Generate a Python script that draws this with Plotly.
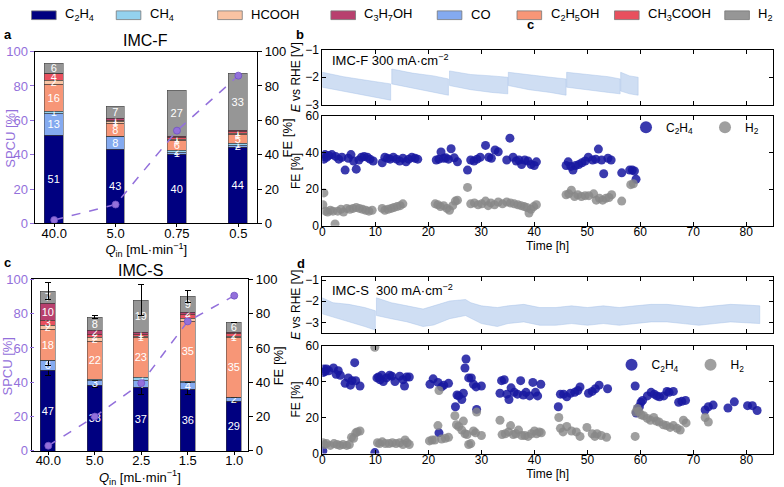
import plotly.graph_objects as go

W, H = 784, 487
def px(x): return x / W
def py(y): return 1 - y / H

FONT = "Liberation Sans, Arial, sans-serif"
PURPLE = "#9370DB"

# ---------------- data ----------------
products = ["C2H4", "CO", "CH4", "C2H5OH", "HCOOH", "CH3COOH", "C3H7OH", "H2"]
legend_order = ["C2H4", "CH4", "HCOOH", "C3H7OH", "CO", "C2H5OH", "CH3COOH", "H2"]
labels_html = {
    "C2H4": "C<sub>2</sub>H<sub>4</sub>", "CH4": "CH<sub>4</sub>", "HCOOH": "HCOOH",
    "C3H7OH": "C<sub>3</sub>H<sub>7</sub>OH", "CO": "CO", "C2H5OH": "C<sub>2</sub>H<sub>5</sub>OH",
    "CH3COOH": "CH<sub>3</sub>COOH", "H2": "H<sub>2</sub>",
}
colors = {
    "C2H4": "#000080", "CH4": "#94d1ee", "HCOOH": "#f9c3a3", "C3H7OH": "#b8406e",
    "CO": "#84aaf0", "C2H5OH": "#f79677", "CH3COOH": "#e8505e", "H2": "#969696",
}

# Panel a: IMC-F
qin_f = ["40.0", "5.0", "0.75", "0.5"]
fe_f = {
    "C2H4": [51, 43, 40, 44],
    "CO": [13, 7.5, 1, 1.5],
    "CH4": [1, 0, 1.5, 1],
    "C2H5OH": [16, 7.5, 5.5, 5],
    "HCOOH": [2, 1, 1, 1],
    "CH3COOH": [4, 1, 1, 1],
    "C3H7OH": [0.3, 1, 0.5, 0.5],
    "H2": [6, 7, 27, 33],
}
spcu_f = [2, 11, 54, 86]

# Panel c: IMC-S
qin_s = ["40.0", "5.0", "2.5", "1.5", "1.0"]
fe_s = {
    "C2H4": [47, 38, 37, 36, 29],
    "CO": [5.5, 3, 4, 4, 2],
    "CH4": [0, 0.5, 2, 0.5, 0],
    "C2H5OH": [18.5, 22.5, 23, 35, 35],
    "HCOOH": [2, 2, 1, 2, 1],
    "CH3COOH": [3, 2, 1, 2, 1.5],
    "C3H7OH": [10, 2, 1, 1.5, 0.5],
    "H2": [7, 8, 19, 9, 6],
}
err_s = {
    "C2H4": [3, 1, 4, 3, 0.5],
    "CO": [2.5, 0, 1.5, 0, 0],
    "H2": [5, 0.8, 9, 3.5, 0],
}
spcu_s = [3, 20, 39.5, 75.5, 90.5]

# Panel b: IMC-F stability
b_e_t = [[0, 4, 8, 12.9], [13.1, 17, 21, 23.8], [24, 28, 32, 35], [35.1, 39, 43, 46],
         [46.1, 50, 54, 56.2], [56.3, 58, 59.6]]
b_e_up = [[-1.82, -1.98, -2.1, -2.24], [-1.7, -1.85, -1.95, -2.06], [-1.77, -1.9, -1.95, -2.0],
          [-1.82, -1.92, -2.0, -2.06], [-1.82, -1.9, -1.98, -2.06], [-1.82, -1.95, -2.0]]
b_e_lo = [[-2.36, -2.5, -2.65, -2.83], [-2.24, -2.4, -2.55, -2.65], [-2.3, -2.45, -2.55, -2.6],
          [-2.3, -2.45, -2.55, -2.65], [-2.36, -2.45, -2.55, -2.6], [-2.5, -2.6, -2.65]]

b_c2h4_t = [0.1, 0.3, 0.5, 0.8, 1.2, 1.8, 2.5, 3.1, 3.7, 4.3, 4.9, 5.4, 5.9, 6.4, 6.9, 7.4, 7.9, 8.5, 9.0, 9.6,
            11.3, 11.8, 12.3, 12.8, 13.4, 14.0, 14.6, 15.2, 15.8, 16.3, 16.9, 17.5, 18.0,
            21.5, 22.0, 22.4, 22.9, 23.3, 23.8, 24.3, 24.9, 25.5,
            27.4, 28.0, 28.6, 29.2, 29.8, 30.8, 31.4, 31.9, 32.6, 33.2, 34.8, 35.4, 36.0, 36.6, 37.1, 37.6,
            38.2, 38.8, 39.4, 40.0, 40.4,
            46.0, 46.4, 46.9, 47.3, 47.8, 48.4, 49.0, 49.6, 50.2, 51.0, 51.6, 52.1, 52.7, 53.1, 53.9, 54.5,
            56.5, 58.0, 58.5, 58.9, 59.2]
b_c2h4_fe = [38, 36.5, 39, 37.5, 38.5, 39, 38, 36.5, 37.5, 30.5, 37, 39, 35.5, 31, 36, 37.5, 38, 37.5, 36.5, 35.5,
             34.5, 37.5, 37, 36.5, 37.5, 36.5, 35.5, 37, 35, 36.5, 37.5, 37, 36.5,
             36, 36.5, 40.4, 37, 37.2, 36.5, 42.2, 37.2, 35,
             30.5, 36, 35.5, 36.5, 37.5, 44, 37.5, 37, 41.5, 40.5, 36, 48, 37.5, 35.5, 36, 33.5,
             36, 35.5, 33.5, 33, 35,
             33, 35, 32.5, 30.5, 33, 33.5, 34.5, 35.5, 37.5, 36, 36.5, 42, 36, 28.5, 37, 36,
             29, 30.5, 30.5, 30, 25.5]
b_h2_t = [0.1, 0.3, 0.6, 1.0, 1.5, 2.0, 2.4, 2.9, 3.5, 4.0, 4.6, 5.2, 5.8, 6.4, 7.0, 7.6, 8.2, 8.8, 9.4,
          11.3, 11.8, 12.4, 13.0, 13.5, 14.1, 14.7, 15.2,
          21.3, 21.8, 22.3, 22.9, 23.5, 24.0, 24.6, 25.1, 25.5,
          27.4, 28.0, 28.7, 29.4, 30.1, 30.8, 31.3, 31.8, 32.5, 33.2, 34.0, 34.8, 35.5, 36.2, 36.9, 37.5,
          38.1, 38.6, 39.0, 39.4, 39.9, 40.4,
          46.0, 46.5, 47.0, 47.6, 48.2, 48.9, 49.6, 50.3, 51.2, 51.7, 52.3, 52.9, 53.5, 54.1, 54.6,
          56.5, 58.2, 58.7]
b_h2_fe = [11.5, 18, 8, 7.5, 8.5, 8, 1, 8, 9, 7.5, 9.5, 9, 9.5, 10, 9.5, 9, 8.5, 8, 8.5,
           9.5, 8.5, 9, 9.5, 10, 10.5, 11, 12,
           12, 11.5, 10.5, 11, 9.5, 8.5, 11, 13.5, 14,
           21, 12, 12.5, 11.5, 12, 13.5, 11, 12.5, 11.5, 13, 12, 13, 12.5, 12, 11.5, 11,
           10.5, 10, 7, 9, 10.5, 11.5,
           17, 17.5, 19.5, 16, 17, 16, 16.5, 16.5, 17.5, 14, 15, 14, 15, 15.5, 17,
           13.5, 22.5, 23]

# Panel d: IMC-S stability
d_e_t = [[0, 2, 5, 8, 10],
         [10.2, 13, 16, 19, 21, 24, 27, 28, 30, 33, 35, 38, 41, 44, 47, 50, 53, 56, 59, 62, 65, 68, 71,
          74, 77, 80, 82.5]]
d_e_up = [[-1.84, -2.07, -2.15, -2.3, -2.45],
          [-1.84, -2.07, -2.22, -2.37, -2.22, -1.99, -1.92, -2.07, -2.22, -2.3, -2.22, -2.15, -2.3, -2.3,
           -2.22, -2.3, -2.22, -2.3, -2.22, -2.15, -2.15, -2.22, -2.3, -2.22, -2.15, -2.18, -2.22]]
d_e_lo = [[-2.6, -2.76, -2.98, -3.2, -3.37],
          [-2.68, -2.83, -2.98, -3.2, -3.13, -2.83, -2.68, -2.83, -3.06, -3.2, -3.06, -2.98, -3.14, -3.14,
           -3.06, -3.14, -3.06, -3.14, -3.06, -2.98, -2.98, -3.06, -3.14, -3.06, -2.98, -3.03, -3.06]]

d_c2h4_t = [0.1, 0.1, 0.3, 0.5, 0.8, 1.2, 2.1, 2.6, 3.0, 3.4, 4.3, 4.9, 5.3, 5.6, 6.1, 6.3, 7.1,
            9.9, 10.3, 10.6, 10.9, 11.2, 11.5, 12.1, 12.7, 13.1, 13.7, 14.6, 15.2, 15.5, 15.9, 16.4,
            20.3, 20.9, 21.8, 22.0, 22.5, 22.9, 23.8, 25.1, 25.4, 25.7, 26.3, 26.6, 26.9, 27.1, 27.6, 28.1,
            28.5, 29.0, 29.1, 30.0,
            33.5, 33.8, 34.3, 34.8, 35.2, 35.6, 36.2, 36.8, 37.4, 37.9, 38.4, 39.1, 39.7, 40.2, 40.6, 41.2,
            44.5, 44.9, 45.5, 46.1, 46.8, 47.6, 48.2, 48.6, 50.2, 50.9, 51.5, 52.2, 53.8,
            59.0, 59.2, 59.5, 59.8, 60.1, 60.4, 61.3, 62.0, 62.6, 63.1, 63.6, 64.4, 65.0, 65.4, 66.2, 67.2,
            67.8, 68.5,
            72.2, 72.8, 73.7, 76.5, 77.7, 80.2, 81.1, 82.0]
d_c2h4_fe = [1.5, 45, 47, 45.5, 47, 46, 47.5, 44, 46, 43.5, 39, 42, 38, 40.5, 50.5, 40.5, 37.5,
             0.5, 42, 42.5, 41, 43.5, 40, 42, 43.5, 43, 40, 43, 41, 37.5, 42.5, 42.5,
             38.5, 41.5, 39.5, 11.5, 37, 38, 39, 26, 32.5, 32, 30, 33.5, 47.5, 52.5, 42, 42,
             38.5, 37, 24.5, 37.5,
             33.5, 40.5, 41, 33, 30, 36.5, 34, 33, 40.5, 32.5, 34, 32, 39.5, 34, 32, 38.5,
             26, 33, 33, 31.5, 33.5, 34, 35, 37, 33.5, 34.5, 36, 38, 36,
             37.5, 22.5, 25, 26, 28.5, 29.5, 32, 34, 33, 32, 31.5, 32, 34.5, 34, 34.5, 28.5,
             29, 29.5,
             24.2, 26, 26.9, 25.3, 28.7, 26.6, 26.6, 23.9]
d_h2_t = [0.1, 0.4, 0.8, 1.5, 2.2, 2.8, 3.3, 3.9, 4.6, 5.1, 5.5, 5.9, 6.3, 6.6, 7.1,
          9.9, 10.4, 10.8, 11.3, 11.9, 12.6, 13.2, 13.9, 14.6, 15.2, 15.6, 16.0, 16.4,
          20.2, 20.7, 21.2, 21.8, 22.0, 22.5, 23.2, 23.8, 25.0, 25.3, 25.7, 26.3, 26.6, 26.9, 27.3, 27.6,
          28.0, 28.5, 28.9, 29.1, 30.0,
          33.5, 33.9, 34.5, 35.1, 35.5, 36.0, 36.5, 37.0, 37.6, 38.2, 38.8, 39.4, 40.0, 40.4, 40.9, 41.3,
          44.6, 44.9, 45.4, 46.1, 47.0, 47.9, 48.6, 49.9, 50.9, 51.4, 51.8, 52.6, 53.6,
          59.0, 59.1, 59.4, 59.7, 60.1, 60.6, 61.3, 61.9, 62.5, 63.0, 63.5, 64.3, 64.9, 65.6, 66.2, 66.9,
          67.5, 68.1, 68.6,
          72.2, 72.8]
d_h2_fe = [6, 5, 5.5, 4.5, 5.5, 5, 4.5, 5, 4.5, 5, 9, 8.5, 11.5, 12, 12.5,
           59, 6, 5.5, 6.5, 5.5, 5.5, 6, 5.5, 6, 5, 7.5, 6, 5,
           7, 7.5, 7.5, 15.5, 35, 8, 8.5, 9, 21, 16, 15, 13, 18, 11, 10.5, 5,
           5.5, 12.5, 11.5, 23, 10,
           18.5, 10.5, 11, 12, 15.5, 10.5, 11, 13, 10, 10, 9.5, 11, 12.5, 11, 12, 11.5,
           20, 14, 12, 15, 12.5, 12, 9.5, 14.5, 11, 9.5, 11, 10, 9,
           9.5, 23, 25, 23.5, 21.5, 21, 19.5, 18.5, 20, 18, 17.5, 16, 15.5, 14.5, 15.5, 14,
           13, 18.5, 17,
           20, 17.5]


def lab(v):
    return str(int(round(v))) if v >= 1 else ""


fig = go.Figure()

# ---------------- bar panels ----------------
def add_bars(cats, fe, spcu, xa, ya, ya2, width, errs=None):
    for p in products:
        kw = {}
        if errs and p in errs:
            kw["error_y"] = dict(type="data", array=errs[p], color="black", thickness=1, width=3)
        fig.add_trace(go.Bar(
            x=cats, y=fe[p], xaxis=xa, yaxis=ya, name=p, showlegend=False, width=width,
            marker=dict(color=colors[p], line=dict(color="#3a3a3a", width=0.5)),
            text=[lab(v) for v in fe[p]], textposition="inside", insidetextanchor="middle",
            textangle=0, textfont=dict(color="white", size=11, family=FONT), **kw))
    fig.add_trace(go.Scatter(
        x=cats, y=spcu, xaxis=xa, yaxis=ya2, mode="lines+markers", showlegend=False,
        line=dict(color=PURPLE, dash="dash", width=1.5),
        marker=dict(size=7, color=PURPLE, line=dict(color="#6f52c4", width=0.8))))

add_bars(qin_f, fe_f, spcu_f, "x", "y", "y2", 0.305)
add_bars(qin_s, fe_s, spcu_s, "x2", "y3", "y4", 0.32, err_s)

# ---------------- potential bands ----------------
def band(ts, ups, los, xa, ya):
    xs, ys = [], []
    for t, u, l in zip(ts, ups, los):
        xs += t + t[::-1] + [t[0], None]
        ys += u + l[::-1] + [u[0], None]
    fig.add_trace(go.Scatter(x=xs, y=ys, xaxis=xa, yaxis=ya, mode="lines", fill="toself",
                             fillcolor="rgba(160,190,232,0.5)", line=dict(width=0.6, color="rgba(160,190,232,0.7)"),
                             showlegend=False))

band(b_e_t, b_e_up, b_e_lo, "x3", "y5")
band(d_e_t, d_e_up, d_e_lo, "x5", "y7")

C_BLUE = "rgba(24,24,160,0.85)"
C_GRAY = "rgba(135,135,135,0.8)"

def fe_scatter(t1, f1, t2, f2, xa, ya, leg):
    fig.add_trace(go.Scatter(x=t1, y=f1, xaxis=xa, yaxis=ya, mode="markers", legend=leg,
                             name="C<sub>2</sub>H<sub>4</sub>", marker=dict(size=9, color=C_BLUE)))
    fig.add_trace(go.Scatter(x=t2, y=f2, xaxis=xa, yaxis=ya, mode="markers", legend=leg,
                             name="H<sub>2</sub>", marker=dict(size=9, color=C_GRAY)))

fe_scatter(b_c2h4_t, b_c2h4_fe, b_h2_t, b_h2_fe, "x4", "y6", "legend")
fe_scatter(d_c2h4_t, d_c2h4_fe, d_h2_t, d_h2_fe, "x6", "y8", "legend2")

# ---------------- axes ----------------
ax_common = dict(showgrid=False, zeroline=False, showline=True, linecolor="black", linewidth=1,
                 tickfont=dict(size=13, color="black", family=FONT), ticklen=4, tickcolor="black")
qtitle = "<i>Q</i><sub>in</sub> [mL·min<sup>−1</sup>]"

layout_axes = dict(
    xaxis=dict(ax_common, domain=[px(33), px(258)], anchor="y", type="category", range=[-0.305, 3.305],
               mirror=True, ticks="outside", ticklen=3, ticklabelstandoff=-5,
               title=dict(text=qtitle, font=dict(size=13), standoff=0)),
    yaxis=dict(ax_common, domain=[py(223.3), py(46)], anchor="x", side="right", range=[0, 100], dtick=20,
               mirror=True, ticks="outside"),
    yaxis2=dict(ax_common, overlaying="y", side="left", range=[0, 100], dtick=20, showline=False,
                ticks="outside", tickcolor=PURPLE, tickfont=dict(size=13, color=PURPLE, family=FONT)),
    xaxis2=dict(ax_common, domain=[px(29), px(249)], anchor="y3", type="category", range=[-0.36, 4.3],
                mirror=True, ticks="outside", ticklen=3, ticklabelstandoff=-5,
                title=dict(text=qtitle, font=dict(size=13), standoff=0)),
    yaxis3=dict(ax_common, domain=[py(458), py(281)], anchor="x2", side="right", range=[0, 100], dtick=20,
                mirror=True, ticks="outside"),
    yaxis4=dict(ax_common, overlaying="y3", side="left", range=[0, 100], dtick=20, showline=False,
                ticks="outside", tickcolor=PURPLE, tickfont=dict(size=13, color=PURPLE, family=FONT)),
)

ts_common = dict(ax_common, ticks="inside", mirror="ticks", tickfont=dict(size=12, color="black", family=FONT))
layout_axes.update(
    xaxis3=dict(ts_common, domain=[px(324.3), px(781.7)], anchor="y5", range=[0, 85], dtick=10,
                showticklabels=False),
    yaxis5=dict(ts_common, domain=[py(101), py(44)], anchor="x3", range=[-3, -1], dtick=1,
                title=dict(text="<i>E</i> vs RHE [V]", font=dict(size=12), standoff=2)),
    xaxis4=dict(ts_common, domain=[px(324.3), px(781.7)], anchor="y6", range=[0, 85], dtick=10,
                ticklabelstandoff=-5,
                title=dict(text="Time [h]", font=dict(size=12), standoff=0)),
    yaxis6=dict(ts_common, domain=[py(225.7), py(112.7)], anchor="x4", range=[0, 60], dtick=20,
                title=dict(text="FE [%]", font=dict(size=12), standoff=2)),
    xaxis5=dict(ts_common, domain=[px(324.3), px(782)], anchor="y7", range=[0, 85], dtick=10,
                showticklabels=False),
    yaxis7=dict(ts_common, domain=[py(336), py(278.3)], anchor="x5", range=[-3.49, -0.84], tickvals=[-1, -2, -3],
                title=dict(text="<i>E</i> vs RHE [V]", font=dict(size=12), standoff=2)),
    xaxis6=dict(ts_common, domain=[px(324.3), px(782)], anchor="y8", range=[0, 85], dtick=10,
                ticklabelstandoff=-5,
                title=dict(text="Time [h]", font=dict(size=12), standoff=0)),
    yaxis8=dict(ts_common, domain=[py(460.7), py(349.3)], anchor="x6", range=[0, 60], dtick=20,
                title=dict(text="FE [%]", font=dict(size=12), standoff=2)),
)

# ---------------- annotations / manual top legend ----------------
ann = []
shapes = []
def text(x, y, s, size=12, color="black", bold=False, angle=0, xanchor="center"):
    if bold:
        s = "<b>" + s + "</b>"
    ann.append(dict(x=px(x), y=py(y), xref="paper", yref="paper", text=s, showarrow=False,
                    font=dict(size=size, color=color, family=FONT), textangle=angle,
                    xanchor=xanchor, yanchor="middle"))

leg_patch_x = {"C2H4": 29, "CH4": 115, "HCOOH": 218, "C3H7OH": 333, "CO": 441, "C2H5OH": 522,
               "CH3COOH": 621, "H2": 733}
for p in legend_order:
    x0 = leg_patch_x[p]
    shapes.append(dict(type="rect", xref="paper", yref="paper", x0=px(x0), x1=px(x0 + 25),
                       y0=py(13), y1=py(4), fillcolor=colors[p], line=dict(color="#777", width=0.8)))
    text(x0 + 32, 8, labels_html[p], size=13, xanchor="left")

text(5, 28, "a", 13, bold=True)
text(302, 28, "b", 13, bold=True)
text(536, 18, "c", 13, bold=True)
text(5, 264, "c", 13, bold=True)
text(303, 265, "d", 13, bold=True)
text(145, 35, "IMC-F", 16)
text(140, 272, "IMC-S", 16)
text(8, 135, "SPCU [%]", 13, color=PURPLE, angle=-90)
text(5, 370, "SPCU [%]", 13, color=PURPLE, angle=-90)
text(289, 135, "FE [%]", 13, angle=-90)
text(280, 370, "FE [%]", 13, angle=-90)
text(332, 55, "IMC-F 300 mA·cm<sup>−2</sup>", 13, xanchor="left")
text(332, 292, "IMC-S  300 mA·cm<sup>−2</sup>", 13, xanchor="left")

fig.update_layout(
    width=W, height=H, margin=dict(l=0, r=0, t=0, b=0, pad=0),
    paper_bgcolor="white", plot_bgcolor="white",
    font=dict(family=FONT, size=12, color="black"),
    barmode="stack", bargap=0,
    uniformtext=dict(minsize=11, mode="show"),
    annotations=ann, shapes=shapes,
    legend=dict(orientation="h", x=px(633), y=py(124), xanchor="left", yanchor="middle", traceorder="normal",
                bgcolor="rgba(0,0,0,0)", font=dict(size=12), entrywidth=34, itemsizing="constant"),
    legend2=dict(orientation="h", x=px(618), y=py(369), xanchor="left", yanchor="middle", traceorder="normal",
                 bgcolor="rgba(0,0,0,0)", font=dict(size=12), entrywidth=34, itemsizing="constant"),
    **layout_axes,
)

fig.write_html("out.html")
